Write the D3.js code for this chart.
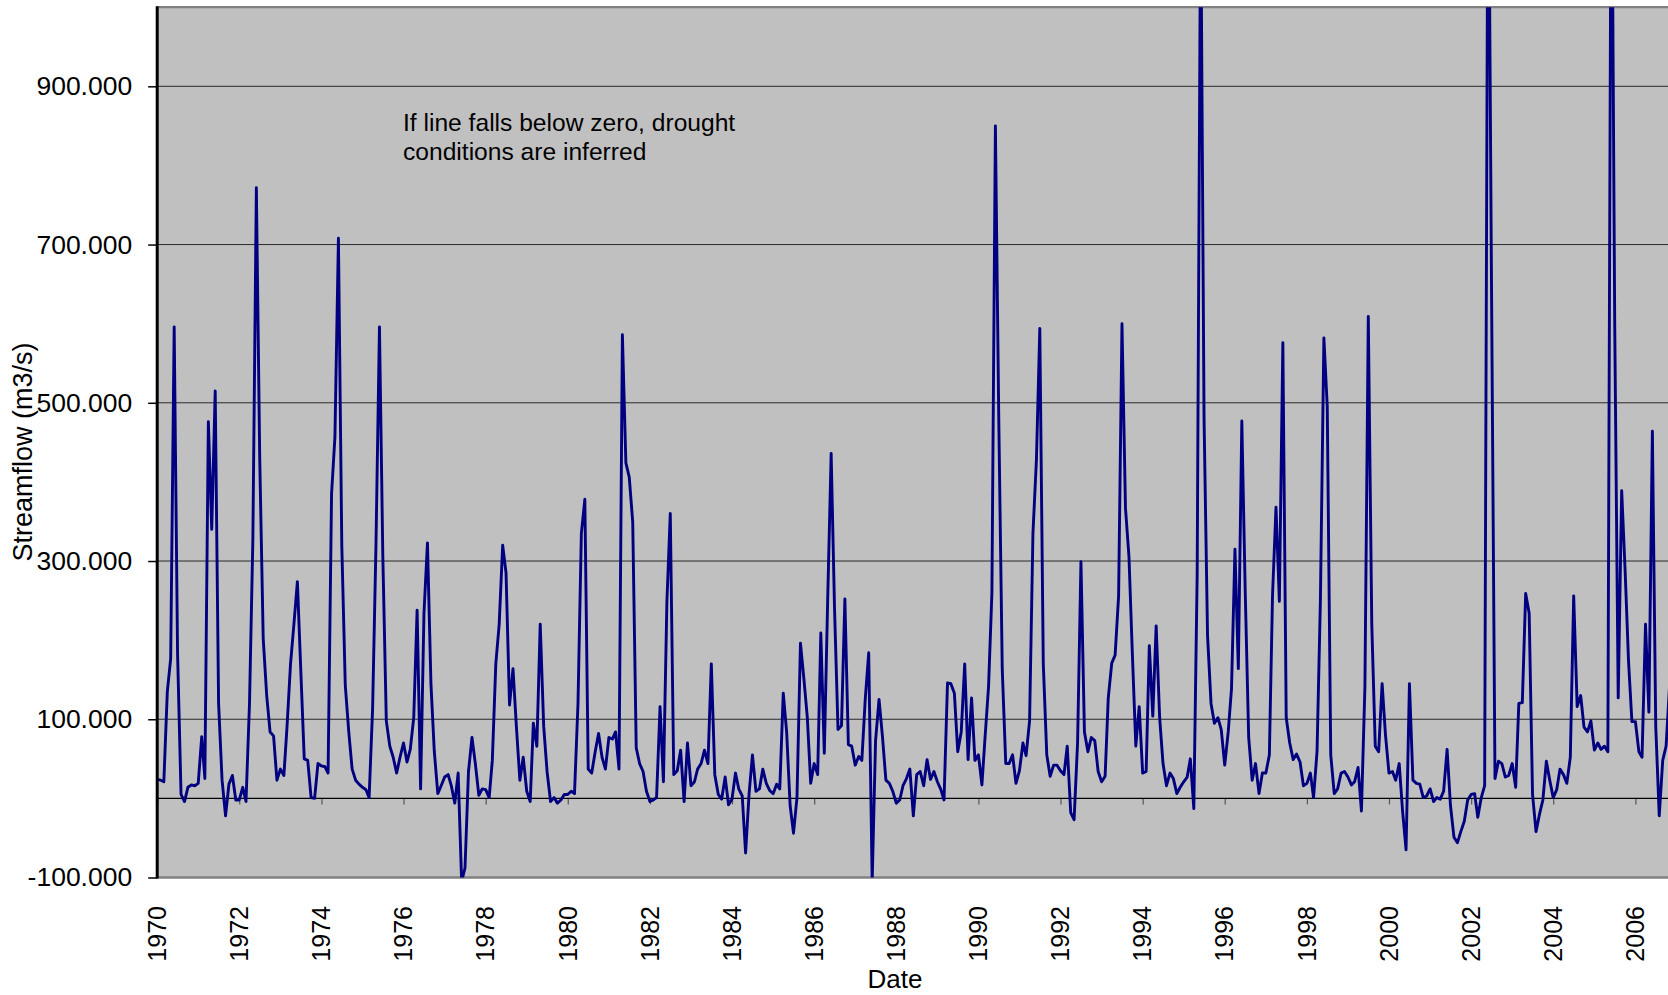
<!DOCTYPE html>
<html>
<head>
<meta charset="utf-8">
<script src="https://cdn.jsdelivr.net/npm/d3@7"></script>
<style>
  body { margin: 0; background: #ffffff; }
  svg { display: block; }
  text { font-family: "Liberation Sans", Arial, Helvetica, sans-serif; fill: #000; }
</style>
</head>
<body>
<svg id="chart" width="1668" height="995"></svg>
<script>
// Monthly streamflow series (m3/s), starting January 1970
const startYear = 1970;
const streamflow = [
  24, 23, 21, 135, 177, 596, 184, 5, -4, 14, 17, 16,
  19, 78, 25, 476, 340, 515, 120, 23, -22, 18, 29, -2,
  -2, 14, -4, 120, 328, 772, 430, 202, 130, 84, 79, 23,
  37, 29, 91, 170, 220, 274, 163, 50, 48, 1, 0, 44,
  41, 40, 32, 385, 457, 708, 320, 143, 84, 37, 23, 18,
  14, 11, 1, 113, 320, 596, 306, 98, 66, 52, 32, 52,
  70, 46, 62, 102, 238, 12, 234, 323, 145, 59, 6, 16,
  27, 30, 16, -6, 32, -105, -88, 34, 77, 44, 4, 12,
  11, 1, 48, 170, 220, 320, 285, 118, 164, 91, 23, 52,
  9, -4, 95, 66, 220, 91, 34, -4, 1, -6, -2, 5,
  5, 9, 6, 120, 335, 378, 37, 32, 59, 82, 52, 37,
  77, 75, 84, 37, 586, 424, 406, 349, 64, 44, 34, 9,
  -4, -2, 1, 116, 21, 249, 360, 30, 35, 61, -4, 70,
  16, 21, 37, 44, 61, 44, 170, 30, 5, -1, 27, -8,
  -1, 32, 12, 3, -69, 6, 55, 9, 12, 37, 19, 10,
  6, 18, 12, 133, 84, -9, -44, 1, 196, 152, 102, 19,
  44, 30, 209, 57, 250, 436, 240, 87, 92, 252, 68, 66,
  42, 53, 48, 127, 184, -105, 73, 125, 77, 23, 19, 9,
  -6, -2, 16, 25, 37, -22, 30, 34, 16, 49, 24, 34,
  21, 11, -2, 146, 145, 133, 59, 84, 170, 49, 127, 48,
  55, 17, 77, 141, 260, 850, 480, 163, 44, 44, 55, 19,
  35, 70, 54, 98, 335, 428, 594, 170, 55, 28, 42, 42,
  35, 30, 66, -18, -27, 70, 299, 84, 59, 77, 73, 34,
  21, 28, 127, 171, 181, 256, 600, 367, 306, 184, 66, 116,
  32, 34, 193, 104, 218, 102, 44, 16, 32, 25, 6, 14,
  21, 27, 50, -13, 285, 1150, 480, 206, 120, 95, 102, 87,
  42, 84, 138, 315, 164, 477, 263, 77, 23, 44, 6, 32,
  32, 55, 256, 368, 249, 576, 102, 70, 49, 56, 46, 16,
  19, 32, 1, 59, 250, 582, 495, 55, 6, 12, 32, 34,
  27, 17, 21, 39, -16, 141, 609, 220, 66, 59, 145, 80,
  32, 34, 23, 44, -16, -65, 145, 23, 19, 18, 1, 3,
  12, -4, 1, -1, 9, 62, -9, -49, -56, -42, -29, -2,
  5, 6, -24, 1, 16, 1300, 650, 25, 47, 44, 27, 29,
  44, 14, 120, 121, 259, 234, 5, -42, -20, -2, 47, 23,
  1, 11, 37, 30, 19, 52, 256, 116, 130, 90, 84, 98,
  61, 70, 62, 66, 59, 1300, 600, 127, 389, 290, 173, 97,
  97, 59, 52, 220, 109, 464, 91, -22, 48, 66, 143
];

const yTickValues = [-100, 100, 300, 500, 700, 900];
const gridValues = [100, 300, 500, 700, 900];
const xTickYears = [1970, 1972, 1974, 1976, 1978, 1980, 1982, 1984, 1986, 1988,
                    1990, 1992, 1994, 1996, 1998, 2000, 2002, 2004, 2006];
const noteLines = ["If line falls below zero, drought", "conditions are inferred"];
const yTitle = "Streamflow (m3/s)";
const xTitle = "Date";

const data = streamflow.map((v, i) => ({ date: new Date(startYear, i, 1), value: v }));

const svg = d3.select("#chart");
const plotLeft = 157.2, plotTop = 7.2, plotBottom = 877.5, plotRight = 1720;

const x = d3.scaleTime()
  .domain([new Date(1970, 0, 1), new Date(2006, 0, 1)])
  .range([plotLeft, 1635.4]);
const y = d3.scaleLinear().domain([-100, 1000]).range([plotBottom, plotTop]);

// plot area background
svg.append("rect")
  .attr("x", plotLeft).attr("y", plotTop)
  .attr("width", plotRight - plotLeft).attr("height", plotBottom - plotTop)
  .attr("fill", "#c0c0c0");

// horizontal gridlines
svg.append("g").selectAll("line").data(gridValues).join("line")
  .attr("x1", plotLeft).attr("x2", plotRight)
  .attr("y1", d => y(d)).attr("y2", d => y(d))
  .attr("stroke", "#2a2a2a").attr("stroke-width", 1);

// plot frame top / bottom
svg.append("line").attr("x1", plotLeft).attr("x2", plotRight)
  .attr("y1", plotTop).attr("y2", plotTop)
  .attr("stroke", "#808080").attr("stroke-width", 2.2);
svg.append("line").attr("x1", plotLeft).attr("x2", plotRight)
  .attr("y1", plotBottom).attr("y2", plotBottom)
  .attr("stroke", "#808080").attr("stroke-width", 2.6);

// category axis crossing at zero, with tick marks
const xAxisZero = svg.append("g")
  .attr("transform", `translate(0,${y(0)})`)
  .call(d3.axisBottom(x)
    .tickValues(xTickYears.map(yr => new Date(yr, 0, 1)))
    .tickSize(6).tickFormat(""));
xAxisZero.select(".domain").remove();
xAxisZero.selectAll(".tick line").attr("stroke", "#555").attr("stroke-width", 1.2);
svg.append("line").attr("x1", plotLeft).attr("x2", plotRight)
  .attr("y1", y(0)).attr("y2", y(0))
  .attr("stroke", "#000").attr("stroke-width", 1.3);

// data line, clipped to the plot area
svg.append("clipPath").attr("id", "plotClip")
  .append("rect")
  .attr("x", plotLeft).attr("y", plotTop)
  .attr("width", plotRight - plotLeft).attr("height", plotBottom - plotTop);

const line = d3.line().x(d => x(d.date)).y(d => y(d.value));
svg.append("path")
  .datum(data)
  .attr("clip-path", "url(#plotClip)")
  .attr("fill", "none")
  .attr("stroke", "#000080")
  .attr("stroke-width", 2.9)
  .attr("stroke-linejoin", "round")
  .attr("d", line);

// value axis
const fmt = d3.formatLocale({ decimal: ".", thousands: ",", grouping: [3], currency: ["", ""], minus: "-" }).format(".3f");
const yAxis = svg.append("g")
  .attr("transform", `translate(${plotLeft},0)`)
  .call(d3.axisLeft(y).tickValues(yTickValues).tickFormat(fmt).tickSize(9).tickPadding(16));
yAxis.select(".domain").remove();
yAxis.selectAll(".tick line").attr("stroke", "#000").attr("stroke-width", 1.5);
yAxis.selectAll(".tick text")
  .style("font-size", "26.5px")
  .style("font-family", "'Liberation Sans', Arial, sans-serif")
  .attr("fill", "#000");
svg.append("line").attr("x1", plotLeft).attr("x2", plotLeft)
  .attr("y1", plotTop - 1).attr("y2", plotBottom + 1)
  .attr("stroke", "#000").attr("stroke-width", 3);

// year labels along the bottom
svg.append("g").selectAll("text").data(xTickYears).join("text")
  .attr("transform", d => `translate(${x(new Date(d, 0, 1))},906) rotate(-90)`)
  .attr("text-anchor", "end")
  .attr("dy", "0.35em")
  .style("font-size", "25px")
  .text(d => d);

// axis titles
svg.append("text")
  .attr("transform", "translate(32,452) rotate(-90)")
  .attr("text-anchor", "middle")
  .style("font-size", "27px")
  .text(yTitle);
svg.append("text")
  .attr("x", 895).attr("y", 988)
  .attr("text-anchor", "middle")
  .style("font-size", "26px")
  .text(xTitle);

// annotation
svg.append("g").selectAll("text").data(noteLines).join("text")
  .attr("x", 403)
  .attr("y", (d, i) => 131 + i * 29)
  .style("font-size", "24.6px")
  .attr("fill", "#111")
  .text(d => d);
</script>
</body>
</html>
